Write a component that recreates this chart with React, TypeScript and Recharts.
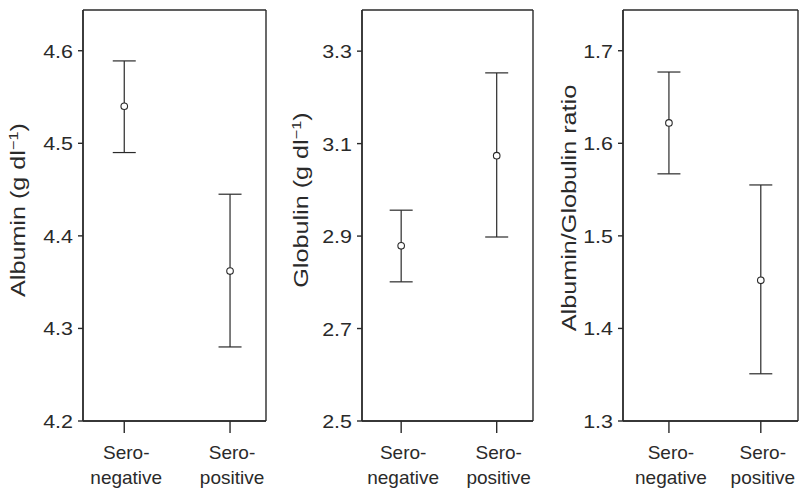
import { ScatterChart, Scatter, XAxis, YAxis, ErrorBar, CartesianGrid } from "recharts";

// categories, split over two lines like the original figure
const catTop = ["Sero-", "Sero-"];
const catBottom = ["negative", "positive"];
const catPos = [1, 2];

const albuminMean = [4.54, 4.362];
const albuminLow = [4.49, 4.28];
const albuminHigh = [4.589, 4.445];
const albuminTicks = [4.2, 4.3, 4.4, 4.5, 4.6];

const globulinMean = [2.879, 3.074];
const globulinLow = [2.801, 2.898];
const globulinHigh = [2.956, 3.253];
const globulinTicks = [2.5, 2.7, 2.9, 3.1, 3.3];

const ratioMean = [1.622, 1.452];
const ratioLow = [1.567, 1.351];
const ratioHigh = [1.677, 1.555];
const ratioTicks = [1.3, 1.4, 1.5, 1.6, 1.7];

const INK = "#2a2a2a";
const FONT = '"Liberation Sans", Arial, Helvetica, sans-serif';

const makeRows = (mean: number[], low: number[], high: number[]) =>
    catPos.map((x, i) => ({
        x,
        y: mean[i],
        err: [mean[i] - low[i], high[i] - mean[i]],
    }));

const XTick = ({ x, y, payload }: any) => {
    const i = catPos.indexOf(payload.value);
    if (i < 0) return null;
    return (
        <text x={x + 2} y={y} textAnchor="middle" fontSize={19} fill={INK} fontFamily={FONT}>
            <tspan x={x + 2} dy={24}>{catTop[i]}</tspan>
            <tspan x={x + 2} dy={25}>{catBottom[i]}</tspan>
        </text>
    );
};

const YTick = ({ x, y, payload }: any) => (
    <text
        transform={`translate(${x},${y + 7}) scale(1.13,1)`}
        textAnchor="end"
        fontSize={19}
        fill={INK}
        fontFamily={FONT}
    >
        {Number(payload.value).toFixed(1)}
    </text>
);

const Dot = ({ cx, cy }: any) => (
    <circle cx={cx} cy={cy} r={3.3} fill="#fff" stroke={INK} strokeWidth={1.1} />
);

const titleContent = (bx: number, cy: number, main: string, unit: boolean) => () => (
    <text
        transform={`translate(${bx},${cy}) rotate(-90) scale(1.26,1)`}
        textAnchor="middle"
        fontSize={20}
        fill={INK}
        fontFamily={FONT}
    >
        {main}
        {unit && (
            <>
                <tspan dy={-7} fontSize={13}>−1</tspan>
                <tspan dy={7}>)</tspan>
            </>
        )}
    </text>
);

const panels = [
    {
        key: "albumin",
        left: 0,
        width: 270,
        yAxisWidth: 83,
        marginRight: 4,
        xDomain: [0.61, 2.34],
        yDomain: [4.2, 4.644],
        ticks: albuminTicks,
        rows: makeRows(albuminMean, albuminLow, albuminHigh),
        title: titleContent(25, 210, "Albumin (g dl", true),
    },
    {
        key: "globulin",
        left: 270,
        width: 270,
        yAxisWidth: 92,
        marginRight: 7,
        xDomain: [0.59, 2.38],
        yDomain: [2.5, 3.389],
        ticks: globulinTicks,
        rows: makeRows(globulinMean, globulinLow, globulinHigh),
        title: titleContent(38, 200, "Globulin (g dl", true),
    },
    {
        key: "ratio",
        left: 540,
        width: 260,
        yAxisWidth: 83,
        marginRight: 2,
        xDomain: [0.5, 2.405],
        yDomain: [1.3, 1.744],
        ticks: ratioTicks,
        rows: makeRows(ratioMean, ratioLow, ratioHigh),
        title: titleContent(36, 208, "Albumin/Globulin ratio", false),
    },
];

const line = { stroke: INK, strokeWidth: 1.4 };

// frame round the plot area: grid lines only at its edges
const frameRows = ({ offset }: any) => [offset.top, offset.top + offset.height];
const frameCols = ({ offset }: any) => [offset.left, offset.left + offset.width];

export default function App() {
    return (
        <div style={{ position: "absolute", left: 0, top: 0, width: 800, height: 490, background: "#fff" }}>
            {panels.map((p) => (
                <div key={p.key} style={{ position: "absolute", left: p.left, top: 0 }}>
                    <ScatterChart
                        width={p.width}
                        height={490}
                        margin={{ top: 10, right: p.marginRight, bottom: 0, left: 0 }}
                    >
                        <CartesianGrid
                            stroke={INK}
                            strokeWidth={1.4}
                            horizontalCoordinatesGenerator={frameRows}
                            verticalCoordinatesGenerator={frameCols}
                        />
                        <XAxis
                            dataKey="x"
                            type="number"
                            domain={p.xDomain}
                            ticks={catPos}
                            interval={0}
                            allowDataOverflow
                            height={69}
                            tickSize={12}
                            tickMargin={2}
                            tick={<XTick />}
                            tickLine={line}
                            axisLine={line}
                        />
                        <YAxis
                            dataKey="y"
                            type="number"
                            domain={p.yDomain}
                            ticks={p.ticks}
                            interval={0}
                            allowDataOverflow
                            width={p.yAxisWidth}
                            tickSize={5}
                            tickMargin={5}
                            tick={<YTick />}
                            tickLine={line}
                            axisLine={line}
                            label={{ content: p.title }}
                        />
                        <Scatter data={p.rows} shape={<Dot />} isAnimationActive={false}>
                            <ErrorBar
                                dataKey="err"
                                direction="y"
                                width={11.5}
                                stroke={INK}
                                strokeWidth={1.2}
                                isAnimationActive={false}
                            />
                        </Scatter>
                    </ScatterChart>
                </div>
            ))}
        </div>
    );
}
